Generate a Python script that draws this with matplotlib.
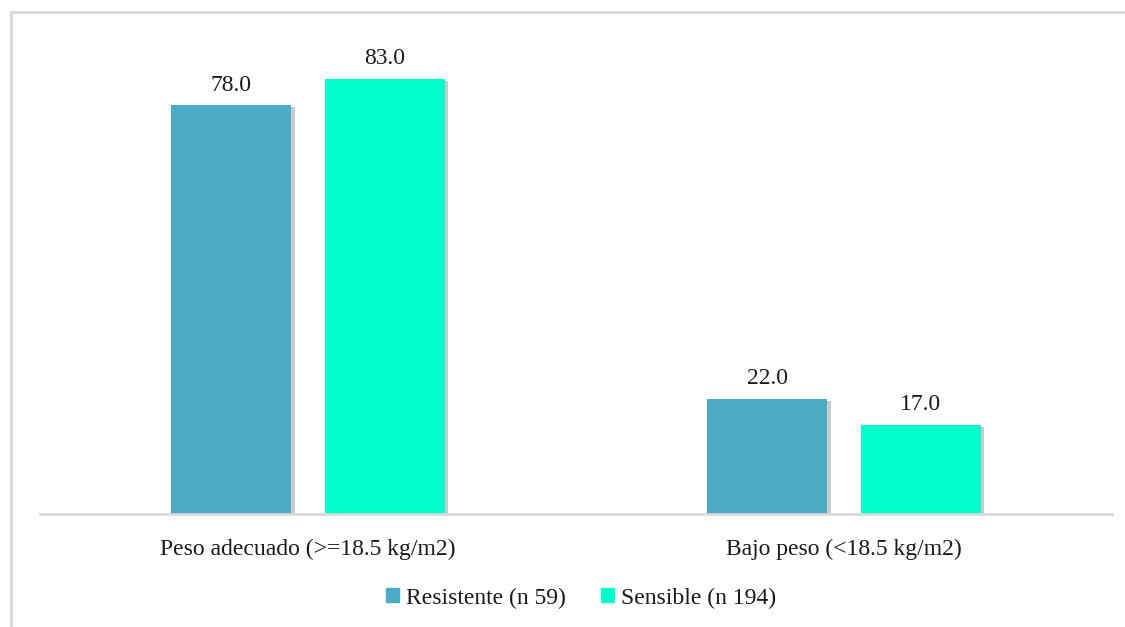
import matplotlib.pyplot as plt
import matplotlib.patheffects as pe
from matplotlib.lines import Line2D
import numpy as np

# -----------------------------
# data
# -----------------------------
categories = ["Peso adecuado (>=18.5 kg/m2)", "Bajo peso (<18.5 kg/m2)"]
series_names = ["Resistente (n 59)", "Sensible (n 194)"]
resistente = [78.0, 22.0]
sensible = [83.0, 17.0]
colors = ["#4BACC6", "#00FFCC"]

plt.rcParams['font.family'] = ['Liberation Serif', 'DejaVu Serif']

fig = plt.figure(figsize=(11.25, 6.27), dpi=100)
ax = fig.add_axes([40 / 1125, (627 - 514) / 627, 1072 / 1125, (514 - 30) / 627])

x = np.arange(len(categories))
w = 0.224
off = 0.143
shadow = [pe.SimplePatchShadow(offset=(2.5, -1.5), shadow_rgbFace="#999999", alpha=0.5), pe.Normal()]

for vals, dx, col in [(resistente, -off, colors[0]), (sensible, off, colors[1])]:
    bars = ax.bar(x + dx, vals, width=w, color=col, path_effects=shadow, zorder=2)
    for b, v in zip(bars, vals):
        ax.annotate(f"{v:.1f}", (b.get_x() + b.get_width() / 2, v), xytext=(0, 7),
                    textcoords="offset points", ha="center", va="bottom",
                    fontsize=17, color="#1a1a1a")

ax.set_xlim(-0.5, 1.5)
ax.set_ylim(0, (514 - 30) / 5.24)
for s in ["top", "right", "left"]:
    ax.spines[s].set_visible(False)
ax.spines["bottom"].set_color("#D9D9D9")
ax.spines["bottom"].set_linewidth(2)
ax.set_yticks([])
ax.set_xticks(x)
ax.set_xticklabels(categories, fontsize=17, color="#1a1a1a")
ax.tick_params(axis="x", length=0, pad=18)

# outer frame (top and left edges only visible)
fig.add_artist(Line2D([11 / 1125, 11 / 1125], [0, 1 - 12 / 627], color="#D9D9D9", lw=2))
fig.add_artist(Line2D([11 / 1125, 1], [1 - 12 / 627, 1 - 12 / 627], color="#D9D9D9", lw=2))

handles = [plt.Rectangle((0, 0), 1, 1, color=c) for c in colors]
fig.legend(handles, series_names, loc="center", bbox_to_anchor=(581 / 1125, 1 - 598 / 627),
           ncol=2, frameon=False, fontsize=17, handlelength=0.55, handleheight=0.55,
           handletextpad=0.3, columnspacing=1.5, labelcolor="#1a1a1a")

fig.savefig("out.png", dpi=100)
